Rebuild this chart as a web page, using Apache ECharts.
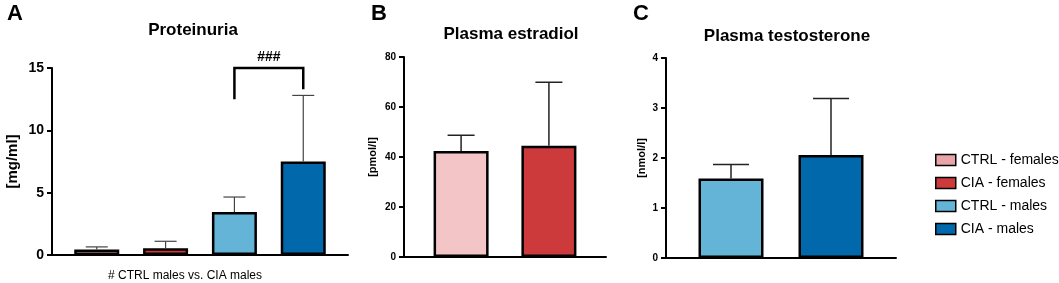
<!DOCTYPE html>
<html>
<head>
<meta charset="utf-8">
<script src="https://cdn.jsdelivr.net/npm/echarts@6/dist/echarts.min.js"></script>
<style>
  html, body { margin: 0; padding: 0; background: #fff; }
  #chart { width: 1059px; height: 283px; }
</style>
</head>
<body>
<div id="chart"></div>
<script>
// groups in legend order
var groups = ["CTRL - females", "CIA - females", "CTRL - males", "CIA - males"];
var groupColors = ["#eaa3a6", "#cd3a3b", "#63b4d7", "#0068ab"];

// panel A: proteinuria [mg/ml], mean and mean + SD
var protMean = [0.45, 0.55, 3.45, 7.5];
var protUpper = [0.65, 1.1, 4.65, 12.8];

// panel B: plasma estradiol [pmol/l] (females)
var estrMean = [42.4, 44.5];
var estrUpper = [48.7, 69.9];

// panel C: plasma testosterone [nmol/l] (males)
var testMean = [1.59, 2.06];
var testUpper = [1.87, 3.19];

var font = "Liberation Sans";
var chart = echarts.init(document.getElementById("chart"));

function axisX(grid) {
  return {
    type: "value", gridIndex: grid, min: -0.65, max: grid === 0 ? 3.65 : 1.65,
    axisLine: { show: true, onZero: false, lineStyle: { color: "#000", width: 2 } },
    axisTick: { show: false }, axisLabel: { show: false }, splitLine: { show: false }
  };
}
function axisY(grid, max, interval, name, gap, size, nameSize) {
  return {
    type: "value", gridIndex: grid, min: 0, max: max, interval: interval,
    name: name, nameLocation: "middle", nameGap: gap,
    nameTextStyle: { fontFamily: font, fontWeight: "bold", fontSize: nameSize, color: "#000" },
    axisLine: { show: true, onZero: false, lineStyle: { color: "#000", width: 2 } },
    axisTick: { show: true, length: 5, lineStyle: { color: "#000", width: 2 } },
    axisLabel: { fontFamily: font, fontWeight: "bold", fontSize: size, color: "#000", margin: 8 },
    splitLine: { show: false }
  };
}

// error bars: vertical line from mean to upper, with a cap
function errorSeries(grid, means, uppers, cap, color, width) {
  return {
    type: "custom", xAxisIndex: grid, yAxisIndex: grid, z: 3, silent: true,
    data: means.map(function (m, i) { return [i, m, uppers[i]]; }),
    renderItem: function (params, api) {
      var lo = api.coord([api.value(0), api.value(1)]);
      var hi = api.coord([api.value(0), api.value(2)]);
      var st = { stroke: color, lineWidth: width };
      return {
        type: "group", children: [
          { type: "line", shape: { x1: lo[0], y1: lo[1], x2: hi[0], y2: hi[1] }, style: st },
          { type: "line", shape: { x1: hi[0] - cap / 2, y1: hi[1], x2: hi[0] + cap / 2, y2: hi[1] }, style: st }
        ]
      };
    }
  };
}

function barSeries(name, grid, x, value, width, color) {
  return {
    type: "bar", name: name, xAxisIndex: grid, yAxisIndex: grid,
    barWidth: width, barGap: "-100%", z: 2,
    itemStyle: { color: color, borderColor: "#000", borderWidth: 2.5 },
    data: [[x, value]]
  };
}

var series = [];
// A
groups.forEach(function (g, i) {
  series.push(barSeries(g, 0, i, protMean[i], 45, groupColors[i]));
});
series.push(errorSeries(0, protMean, protUpper, 22, "#444", 1.2));
// significance bracket between CTRL males and CIA males
series.push({
  type: "custom", xAxisIndex: 0, yAxisIndex: 0, silent: true, z: 4,
  data: [[2, 3, 15, 12.5, 13.3]],
  renderItem: function (params, api) {
    var a = api.coord([api.value(0), api.value(3)]);
    var b = api.coord([api.value(0), api.value(2)]);
    var c = api.coord([api.value(1), api.value(2)]);
    var d = api.coord([api.value(1), api.value(4)]);
    return {
      type: "group", children: [
        { type: "polyline", shape: { points: [a, b, c, d] }, style: { stroke: "#000", lineWidth: 2.5, fill: null } },
        { type: "text", x: (b[0] + c[0]) / 2, y: b[1] - 4,
          style: { text: "###", fontFamily: font, fontWeight: "bold", fontSize: 14, fill: "#000", align: "center", verticalAlign: "bottom" } }
      ]
    };
  }
});
// B
series.push(barSeries(groups[0], 1, 0, estrMean[0], 55, "#f3c5c6"));
series.push(barSeries(groups[1], 1, 1, estrMean[1], 55, groupColors[1]));
series.push(errorSeries(1, estrMean, estrUpper, 27, "#222", 1.5));
// C
series.push(barSeries(groups[2], 2, 0, testMean[0], 65, groupColors[2]));
series.push(barSeries(groups[3], 2, 1, testMean[1], 65, groupColors[3]));
series.push(errorSeries(2, testMean, testUpper, 36, "#222", 1.5));

var titleStyle = { fontFamily: font, fontWeight: "bold", fontSize: 17, color: "#000" };
var letterStyle = { fontFamily: font, fontWeight: "bold", fontSize: 22, color: "#000" };

chart.setOption({
  animation: false,
  title: [
    { text: "Proteinuria", left: 188, top: 17, textAlign: "center", textStyle: titleStyle },
    { text: "Plasma estradiol", left: 506, top: 21, textAlign: "center", textStyle: titleStyle },
    { text: "Plasma testosterone", left: 782, top: 23, textAlign: "center", textStyle: titleStyle },
    { text: "A", left: 2, top: -2, textStyle: letterStyle },
    { text: "B", left: 366, top: -2, textStyle: letterStyle },
    { text: "C", left: 628, top: -2, textStyle: letterStyle }
  ],
  legend: {
    orient: "vertical", left: 935, top: 153, padding: 0, itemWidth: 20, itemHeight: 11, itemGap: 9,
    icon: "rect", data: groups,
    itemStyle: { borderColor: "#000", borderWidth: 1.5 },
    textStyle: { fontFamily: font, fontSize: 14, color: "#000" }
  },
  grid: [
    { left: 52, top: 68, width: 296, height: 187 },
    { left: 404, top: 57, width: 202, height: 200 },
    { left: 666, top: 58, width: 230, height: 200 }
  ],
  xAxis: [axisX(0), axisX(1), axisX(2)],
  yAxis: [
    axisY(0, 15, 5, "[mg/ml]", 32, 14, 15),
    axisY(1, 80, 20, "[pmol/l]", 26, 10, 11),
    axisY(2, 4, 1, "[nmol/l]", 19, 10, 11)
  ],
  graphic: [
    { type: "text", x: 185, y: 276,
      style: { text: "# CTRL males vs. CIA males", fontFamily: font, fontSize: 12, fill: "#000", align: "center", verticalAlign: "middle" } }
  ],
  series: series
});
</script>
</body>
</html>
